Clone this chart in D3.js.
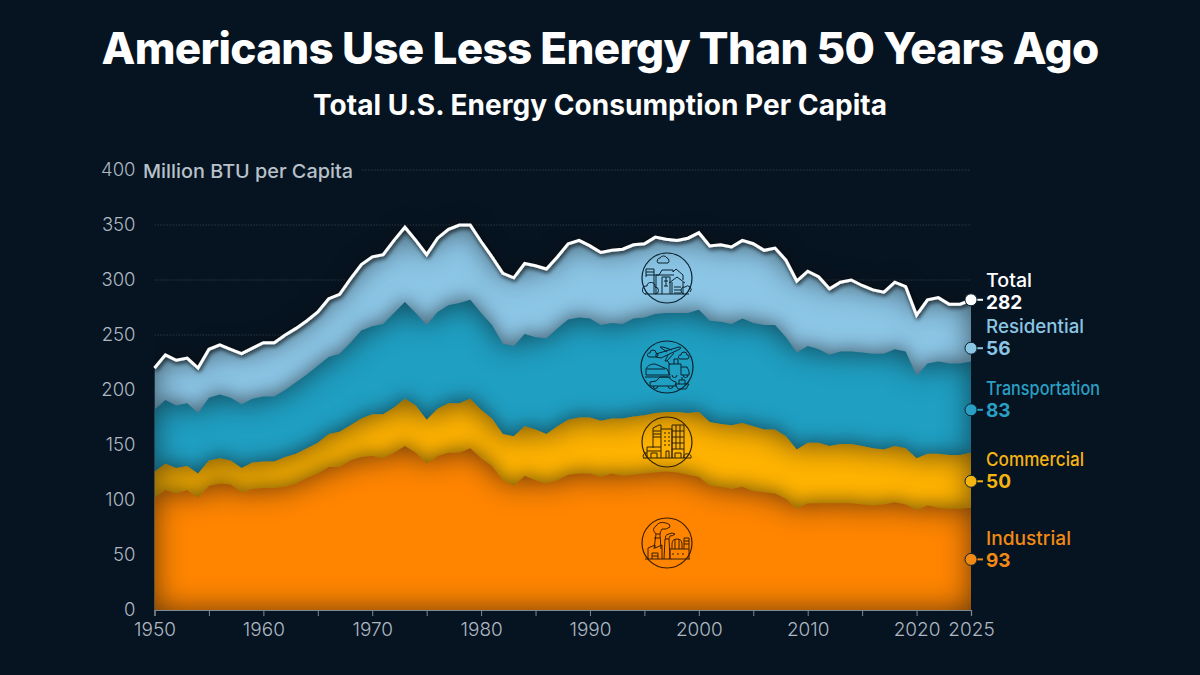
<!DOCTYPE html>
<html>
<head>
<meta charset="utf-8">
<title>Americans Use Less Energy Than 50 Years Ago</title>
<script src="https://cdn.jsdelivr.net/npm/d3@7"></script>
<style>
	html, body { margin: 0; padding: 0; background: #061320; }
	svg { display: block; }
	text { font-family: Inter, 'Open Sans', sans-serif; }
	.icon path, .icon circle, .icon rect, .icon line { fill: none; vector-effect: non-scaling-stroke; }
</style>
</head>
<body>
<div id="chart"></div>
<script>
const startYear = 1950;
const endYear = 2025;
const years = d3.range(startYear, endYear + 1);

// million BTU per capita
const industrial = [
	102, 109, 106, 109, 102, 113, 115, 114, 107, 110,
	111, 111, 112, 115, 120, 124, 130, 130, 136, 139,
	140, 138, 143, 149, 143, 133, 140, 143, 143, 147,
	138, 131, 118, 113, 122, 118, 115, 118, 123, 124,
	124, 121, 124, 122, 123, 124, 125, 126, 125, 123,
	121, 113, 112, 110, 112, 108, 107, 106, 101, 92,
	97, 97, 97, 97, 97, 96, 95, 96, 98, 96,
	91, 95, 93, 92, 92, 93,
];
const commercial = [
	24, 24, 23, 22, 22, 23, 23, 22, 22, 24,
	24, 24, 27, 27, 27, 28, 30, 32, 32, 35,
	38, 40, 41, 43, 43, 40, 43, 45, 45, 45,
	44, 43, 42, 45, 45, 46, 45, 49, 50, 51,
	51, 51, 50, 52, 53, 53, 54, 54, 55, 56,
	59, 58, 57, 58, 58, 59, 57, 58, 57, 54,
	55, 55, 52, 54, 54, 53, 52, 50, 51, 51,
	47, 47, 49, 49, 49, 50,
];
const transportation = [
	56, 58, 57, 57, 55, 57, 58, 57, 58, 58,
	59, 59, 61, 65, 67, 70, 70, 71, 75, 80,
	80, 82, 86, 88, 84, 86, 88, 89, 91, 90,
	88, 85, 82, 82, 84, 84, 87, 89, 91, 91,
	90, 87, 87, 86, 89, 89, 90, 90, 90, 91,
	93, 92, 93, 92, 95, 94, 95, 95, 90, 88,
	88, 85, 83, 84, 84, 85, 86, 87, 88, 88,
	75, 82, 84, 83, 83, 83,
];
const residential = [
	38, 41, 41, 41, 41, 44, 45, 44, 46, 46,
	49, 49, 50, 49, 49, 49, 53, 54, 58, 60,
	63, 63, 66, 68, 66, 64, 67, 69, 71, 68,
	65, 62, 64, 62, 64, 65, 63, 65, 69, 70,
	66, 66, 66, 68, 67, 67, 70, 67, 66, 68,
	70, 68, 70, 70, 71, 72, 68, 70, 70, 65,
	68, 66, 60, 63, 65, 61, 58, 56, 61, 59,
	55, 58, 58, 54, 54, 56,
];

const sectors = ['Industrial', 'Commercial', 'Transportation', 'Residential'];
const sectorValues = [industrial, commercial, transportation, residential];
const sectorColors = ['#ff8500', '#ffb300', '#1f9fc2', '#8cc6e6'];

const labelNames = ['Total', 'Residential', 'Transportation', 'Commercial', 'Industrial'];
const labelValues = [282, 56, 83, 50, 93];
const labelColors = ['#ffffff', '#8bc5e4', '#2a9fc4', '#f5b312', '#f08a14'];
// where each end marker sits on the value axis
const markerValues = [282, 238, 182, 117, 46];

const yTicks = [0, 50, 100, 150, 200, 250, 300, 350, 400];
const xLabelYears = [1950, 1960, 1970, 1980, 1990, 2000, 2010, 2020, 2025];

const width = 1200;
const height = 675;

const x = d3.scaleLinear().domain([startYear, endYear]).range([154.5, 971]);
const y = d3.scaleLinear().domain([0, 400]).range([610, 170]);

const svg = d3
	.select('#chart')
	.append('svg')
	.attr('width', width)
	.attr('height', height)
	.style('background', '#061320');

const defs = svg.append('defs');

defs.append('clipPath')
	.attr('id', 'plotClip')
	.append('rect')
	.attr('x', x.range()[0])
	.attr('y', 100)
	.attr('width', x.range()[1] - x.range()[0])
	.attr('height', y(0) - 100);

// Inner shade along the edges, plus a soft shadow thrown on the band behind
const shade = defs
	.append('filter')
	.attr('id', 'bandShade')
	.attr('color-interpolation-filters', 'sRGB')
	.attr('filterUnits', 'userSpaceOnUse')
	.attr('x', 0)
	.attr('y', 0)
	.attr('width', width)
	.attr('height', height);
shade.append('feFlood').attr('flood-color', '#0a0d10').attr('flood-opacity', 0.62).attr('result', 'ink');
shade.append('feComposite').attr('in', 'ink').attr('in2', 'SourceAlpha').attr('operator', 'out').attr('result', 'outside');
shade.append('feGaussianBlur').attr('in', 'outside').attr('stdDeviation', 15).attr('result', 'outsideBlur');
shade.append('feComposite').attr('in', 'outsideBlur').attr('in2', 'SourceAlpha').attr('operator', 'in').attr('result', 'inner');
shade.append('feGaussianBlur').attr('in', 'SourceAlpha').attr('stdDeviation', 9).attr('result', 'castBlur');
shade.append('feOffset').attr('in', 'castBlur').attr('dy', -3).attr('result', 'castMoved');
shade.append('feFlood').attr('flood-color', '#0a0d10').attr('flood-opacity', 0.5).attr('result', 'castInk');
shade.append('feComposite').attr('in', 'castInk').attr('in2', 'castMoved').attr('operator', 'in').attr('result', 'cast');
const shadeMerge = shade.append('feMerge');
shadeMerge.append('feMergeNode').attr('in', 'cast');
shadeMerge.append('feMergeNode').attr('in', 'SourceGraphic');
shadeMerge.append('feMergeNode').attr('in', 'inner');

const lineShadow = defs.append('filter').attr('id', 'lineShadow').attr('filterUnits', 'userSpaceOnUse')
	.attr('x', 0).attr('y', 0).attr('width', width).attr('height', height);
lineShadow.append('feDropShadow')
	.attr('dx', 1)
	.attr('dy', 2)
	.attr('stdDeviation', 2.2)
	.attr('flood-color', '#000')
	.attr('flood-opacity', 0.9);

// ==== Titles ====
svg.append('text')
	.attr('x', 600)
	.attr('y', 64)
	.attr('text-anchor', 'middle')
	.attr('fill', '#fff')
	.style('font-size', '44px')
	.style('font-weight', 800)
	.style('letter-spacing', '-0.7px')
	.text('Americans Use Less Energy Than 50 Years Ago');

svg.append('text')
	.attr('x', 600)
	.attr('y', 115)
	.attr('text-anchor', 'middle')
	.attr('fill', '#fff')
	.style('font-size', '28px')
	.style('font-weight', 700)
	.style('letter-spacing', '0.05px')
	.text('Total U.S. Energy Consumption Per Capita');

// ==== Grid ====
svg.append('g')
	.selectAll('line')
	.data(yTicks.filter((d) => d > 0))
	.enter()
	.append('line')
	.attr('x1', (d) => (d === 400 ? 362 : x.range()[0]))
	.attr('x2', x.range()[1])
	.attr('y1', (d) => y(d))
	.attr('y2', (d) => y(d))
	.attr('stroke', '#2d3b45')
	.attr('stroke-width', 1)
	.attr('stroke-dasharray', '1.5 1.5');

// ==== Stacked areas ====
const rows = years.map((year, i) => {
	const row = { year };
	sectors.forEach((name, s) => {
		row[name] = sectorValues[s][i];
	});
	return row;
});
const stacked = d3.stack().keys(sectors)(rows);

// Each band runs down to zero and the next one covers it, so its shadow falls on the band above
const area = d3
	.area()
	.x((d) => x(d.data.year))
	.y0(y(0))
	.y1((d) => y(d[1]));

svg.append('g')
	.attr('clip-path', 'url(#plotClip)')
	.selectAll('path')
	.data(stacked.slice().reverse())
	.enter()
	.append('path')
	.attr('d', area)
	.attr('fill', (d) => sectorColors[d.index])
	.attr('filter', 'url(#bandShade)');

// ==== Total line ====
const line = d3
	.line()
	.x((d) => x(d.data.year))
	.y((d) => y(d[1]));

svg.append('path')
	.datum(stacked[stacked.length - 1])
	.attr('d', line)
	.attr('fill', 'none')
	.attr('stroke', '#fff')
	.attr('stroke-width', 3)
	.attr('stroke-linejoin', 'miter')
	.attr('filter', 'url(#lineShadow)');

// ==== Axes ====
const xAxis = d3
	.axisBottom(x)
	.tickValues(d3.range(startYear, endYear + 1, 5))
	.tickSize(6)
	.tickFormat((d) => (xLabelYears.includes(d) ? d : ''));

const xAxisG = svg
	.append('g')
	.attr('transform', `translate(0,${y(0)})`)
	.call(xAxis);
xAxisG.select('.domain').attr('stroke', '#7e8a94').attr('stroke-width', 1.2);
xAxisG.selectAll('.tick line').attr('stroke', '#7e8a94');
xAxisG.selectAll('.tick text')
	.attr('fill', '#adb8c2')
	.attr('y', 20)
	.attr('dy', '0.32em')
	.style('font-size', '19px')
	.style('font-weight', 300)
	.style('font-family', 'Inter, sans-serif');

const yAxis = d3.axisLeft(y).tickValues(yTicks).tickSize(0).tickPadding(19);
const yAxisG = svg
	.append('g')
	.attr('transform', `translate(${x.range()[0]},0)`)
	.call(yAxis);
yAxisG.select('.domain').remove();
yAxisG.selectAll('.tick text')
	.attr('fill', '#adb8c2')
	.style('font-size', '18.5px')
	.style('font-weight', 300)
	.style('font-family', 'Inter, sans-serif');

svg.append('text')
	.attr('x', 143)
	.attr('y', y(400) + 7.5)
	.attr('fill', '#b7c1ca')
	.attr('textLength', 210)
	.attr('lengthAdjust', 'spacingAndGlyphs')
	.style('font-size', '19px')
	.style('font-weight', 500)
	.text('Million BTU per Capita');

// ==== End labels ====
const labelNameY = [287, 333, 395, 466, 545];
const labelNameWidths = [46, 98, 114, 98, 85];
const labels = svg
	.append('g')
	.selectAll('g')
	.data(labelNames)
	.enter()
	.append('g');

labels.append('line')
	.attr('x1', x.range()[1])
	.attr('x2', 983)
	.attr('y1', (d, i) => y(markerValues[i]))
	.attr('y2', (d, i) => y(markerValues[i]))
	.attr('stroke', (d, i) => labelColors[i])
	.attr('stroke-width', 2);

labels.append('circle')
	.attr('cx', x.range()[1])
	.attr('cy', (d, i) => y(markerValues[i]))
	.attr('r', 6)
	.attr('fill', (d, i) => labelColors[i])
	.attr('stroke', '#0a2230')
	.attr('stroke-width', 1);

labels.append('text')
	.attr('x', 986)
	.attr('y', (d, i) => labelNameY[i])
	.attr('fill', (d, i) => labelColors[i])
	.attr('textLength', (d, i) => labelNameWidths[i])
	.attr('lengthAdjust', 'spacingAndGlyphs')
	.style('font-size', '18.5px')
	.style('font-weight', 500)
	.text((d) => d);

labels.append('text')
	.attr('x', 986)
	.attr('y', (d, i) => labelNameY[i] + 22)
	.attr('fill', (d, i) => labelColors[i])
	.style('font-size', '19px')
	.style('font-weight', 700)
	.text((d, i) => labelValues[i]);

// ==== Icons ====
const iconInk = '#0a2a3a';
const iconData = [
	{
		name: 'house', cx: 667, cy: 278, r: 25, ink: '#08222f',
		paths: [
			// cloud
			'M-9,-15 a3,3 0 0 1 2,-5 a4,4 0 0 1 7,0 a3,3 0 0 1 1,5 z',
			// big house
			'M-11,16 V-3 H-8 L-5,-8 H6 V-6 L9,-9 L16,-3 V2',
			'M-13,-3 H7', 'M-5,16 V-1 H3 V16', 'M-3,3 H1 M-3,8 H1 M-1,-1 V8',
			'M2,5 L10,-1 L18,5 M5,4 V16 M16,4 V16', 'M7,9 H14 M7,12 H14 M7,15 H14',
			// side block and bushes
			'M-21,-1 V-9 H-13 V16 M-21,-6 H-13 M-21,-3 H-13',
			'M-22,16 H22', 'M-21,16 a4,4 0 0 1 1,-8 a4,4 0 0 1 8,1 a3,3 0 0 1 0,7',
			'M17,16 a3,3 0 0 1 1,-7 a3,3 0 0 1 5,5',
		],
	},
	{
		name: 'transport', cx: 667, cy: 367, r: 26, ink: '#08222f',
		paths: [
			// plane
			'M-11,-13 L12,-20 Q15,-20 13,-18 L-6,-9 L-11,-10 z', 'M0,-15 L-7,-20 H-4 L5,-17', 'M1,-12 L-2,-6 H0 L7,-14',
			// clouds
			'M-18,-10 a2,2 0 0 1 1,-4 a3,3 0 0 1 6,0 a2,2 0 0 1 0,4 z',
			'M13,-8 a2,2 0 0 1 1,-4 a3,3 0 0 1 6,0 a2,2 0 0 1 0,4 z',
			// train
			'M-21,8 V2 Q-19,-3 -12,-3 L0,2 L3,8 z', 'M-20,2 H-2', 'M-22,10 H4',
			// truck
			'M2,8 V-3 H14 V8', 'M14,0 H20 L22,4 V8 H14', 'M7,-3 V-8 H11 V-3', 'M0,-7 L3,-2',
			'M5,8 a2.5,2.5 0 0 0 5,0 M16,8 a2.5,2.5 0 0 0 5,0',
			// car
			'M-17,19 V15 L-11,14 L-7,10 H1 L6,14 L9,15 V19 z', 'M-14,19 a2.5,2.5 0 0 0 5,0 M1,19 a2.5,2.5 0 0 0 5,0',
			// boat
			'M8,17 H22 L19,22 H11 z', 'M12,17 V13 H18 V17', 'M15,13 V10',
		],
	},
	{
		name: 'buildings', cx: 667, cy: 442, r: 25, ink: '#2e2204',
		paths: [
			'M-14,6 V-14 L-8,-17 H-6 V-13', 'M-14,-11 H-6 M-14,-8 H-6 M-14,-5 H-6',
			'M-6,16 V-13 H5 V16', 'M-3,-9 H-1 M1,-9 H3 M-3,-5 H-1 M1,-5 H3 M-3,-1 H-1 M1,-1 H3 M-3,3 H-1 M1,3 H3',
			'M5,-17 H17 V16 M5,16 V-17', 'M5,-11 H17 M5,-5 H17 M5,1 H17 M5,7 H17 M9,-17 V7 M13,-17 V7',
			'M-20,16 V5 H-6 M-20,9 H-6', 'M-16,16 V11 H-10 V16',
			'M-1,16 V9 H2 V16', 'M8,16 V11 H14 V16',
			'M-24,16 H24', 'M-23,16 a3,3 0 0 1 3,-5 M17,16 a3,3 0 0 1 4,-4 a3,3 0 0 1 3,4',
		],
	},
	{
		name: 'factory', cx: 667, cy: 543, r: 25, ink: '#3b1e02',
		paths: [
			// smoke
			'M-11,-9 Q-16,-14 -11,-17 Q-8,-22 -1,-20 Q4,-19 3,-16 Q-1,-13 -5,-14 Q-7,-11 -7,-9',
			'M-1,-4 Q-3,-8 2,-9 Q5,-11 8,-9 Q6,-7 3,-7 Q2,-5 2,-4',
			// stacks
			'M-13,6 L-11,-9 H-7 L-6,6', 'M-3,16 L-2,-4 H2 L3,16', 'M-13,-5 H-7',
			// body
			'M-19,16 V5 L-12,2 V5 L-5,2 V16', 'M-15,16 V10 H-9 V16 M-15,13 H-9',
			'M3,16 V6 H22 V16', 'M5,11 H7 M10,11 H12 M15,11 H17',
			// tanks
			'M5,6 V1 Q5,-4 10,-4 Q15,-4 15,1 V6', 'M8,-4 V6 M12,-4 V6',
			'M17,6 V-5 H22 V6 M17,-2 H22 M17,1 H22', 'M-22,16 H23',
		],
	},
];

const icons = svg
	.append('g')
	.selectAll('g')
	.data(iconData)
	.enter()
	.append('g')
	.attr('class', 'icon')
	.attr('transform', (d) => `translate(${d.cx},${d.cy})`)
	.attr('stroke', (d) => d.ink || iconInk)
	.attr('stroke-width', 1);

icons.append('circle')
	.attr('r', (d) => d.r)
	.attr('stroke-width', 1.2);

icons.selectAll('path')
	.data((d) => d.paths)
	.enter()
	.append('path')
	.attr('d', (d) => d)
	.attr('stroke-linejoin', 'round');
</script>
</body>
</html>
